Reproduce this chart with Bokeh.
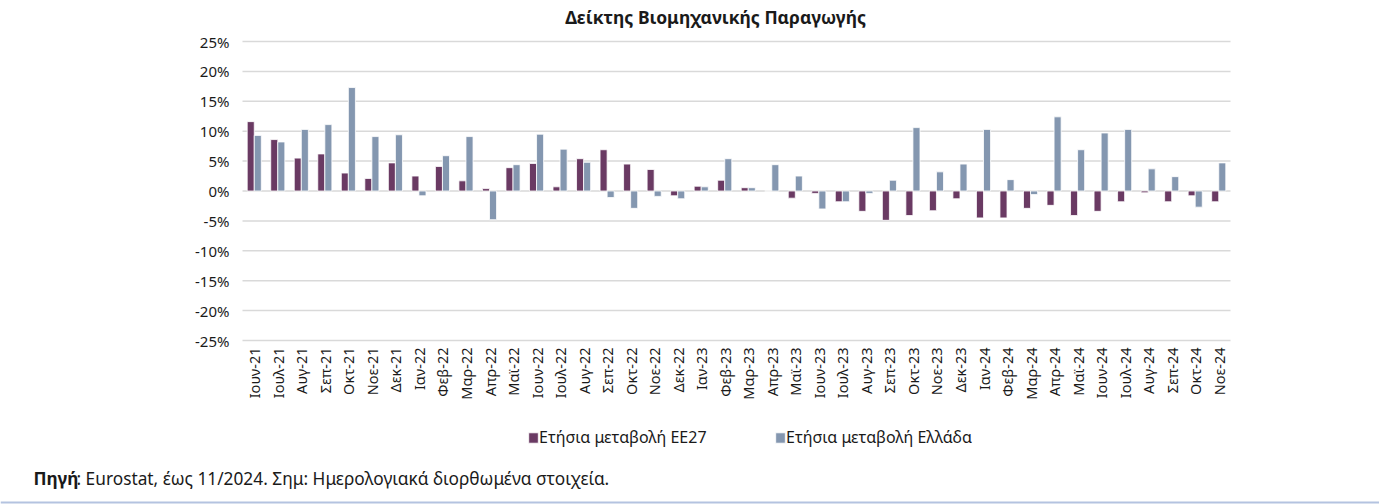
import math
from bokeh.plotting import figure
from bokeh.models import (ColumnDataSource, Label, Legend, LegendItem, BoxAnnotation, Range1d)
from bokeh.core.properties import value
from bokeh.transform import dodge
from bokeh.embed import file_html
from bokeh.resources import INLINE

months = ["Ιουν-21", "Ιουλ-21", "Αυγ-21", "Σεπ-21", "Οκτ-21", "Νοε-21", "Δεκ-21",
          "Ιαν-22", "Φεβ-22", "Μαρ-22", "Απρ-22", "Μαϊ-22", "Ιουν-22", "Ιουλ-22", "Αυγ-22", "Σεπ-22", "Οκτ-22", "Νοε-22", "Δεκ-22",
          "Ιαν-23", "Φεβ-23", "Μαρ-23", "Απρ-23", "Μαϊ-23", "Ιουν-23", "Ιουλ-23", "Αυγ-23", "Σεπ-23", "Οκτ-23", "Νοε-23", "Δεκ-23",
          "Ιαν-24", "Φεβ-24", "Μαρ-24", "Απρ-24", "Μαϊ-24", "Ιουν-24", "Ιουλ-24", "Αυγ-24", "Σεπ-24", "Οκτ-24", "Νοε-24"]

eu27 = [11.6, 8.6, 5.5, 6.2, 3.0, 2.1, 4.7,
        2.5, 4.1, 1.7, 0.4, 3.9, 4.6, 0.7, 5.4, 6.9, 4.5, 3.6, -0.8,
        0.8, 1.8, 0.55, 0.0, -1.2, -0.4, -1.8, -3.4, -4.9, -4.1, -3.3, -1.3,
        -4.5, -4.5, -2.9, -2.4, -4.1, -3.4, -1.8, -0.3, -1.8, -0.8, -1.8]

greece = [9.3, 8.2, 10.3, 11.1, 17.3, 9.1, 9.4,
          -0.8, 5.9, 9.1, -4.8, 4.4, 9.5, 7.0, 4.8, -1.1, -2.9, -0.9, -1.3,
          0.7, 5.4, 0.55, 4.4, 2.5, -3.0, -1.8, -0.4, 1.8, 10.6, 3.2, 4.5,
          10.3, 1.9, -0.6, 12.4, 6.9, 9.7, 10.3, 3.7, 2.4, -2.7, 4.7]

y_ticks = [-25, -20, -15, -10, -5, 0, 5, 10, 15, 20, 25]
y_tick_labels = ["-25%", "-20%", "-15%", "-10%", "-5%", "0%", "5%", "10%", "15%", "20%", "25%"]

title_text = "Δείκτης Βιομηχανικής Παραγωγής"
legend_labels = ["Ετήσια μεταβολή ΕΕ27", "Ετήσια μεταβολή Ελλάδα"]
source_bold = "Πηγή"
source_rest = ": Eurostat, έως 11/2024. Σημ: Ημερολογιακά διορθωμένα στοιχεία."

C_EU = "#6A3A63"
C_GR = "#8497B0"
FONT = "Noto Sans"
TXT = "#1a1a1a"

# canvas and plot-area layout (pixels, from top-left)
W, H = 1379, 504
PL, PR, PT, PB = 242, 1230, 41, 340

n = len(months)
y_lo, y_hi = y_ticks[0], y_ticks[-1]
px_x = (PR - PL) / n
px_y = (PB - PT) / (y_hi - y_lo)
x_range = Range1d(-0.5 - PL / px_x, n - 0.5 + (W - PR) / px_x)
y_range = Range1d(y_lo - (H - PB) / px_y, y_hi + PT / px_y)

p = figure(width=W, height=H, x_range=x_range, y_range=y_range,
           output_backend="svg", toolbar_location=None,
           x_axis_type=None, y_axis_type=None, min_border=0)
p.outline_line_color = None
p.background_fill_color = "white"
p.border_fill_color = "white"

xi = list(range(n))
src = ColumnDataSource(dict(x=xi, m=months, eu=eu27, gr=greece))

# horizontal grid at the y ticks
grid = ColumnDataSource(dict(x0=[-0.5] * len(y_ticks), x1=[n - 0.5] * len(y_ticks),
                             y=y_ticks, lab=y_tick_labels))
p.segment(x0="x0", x1="x1", y0="y", y1="y", source=grid, line_color="#D9D9D9", line_width=1.5)

r_eu = p.vbar(x=dodge("x", -0.15), top="eu", width=0.3, source=src,
              fill_color=C_EU, line_color="white", line_width=0.8)
r_gr = p.vbar(x=dodge("x", 0.15), top="gr", width=0.3, source=src,
              fill_color=C_GR, line_color="white", line_width=0.8)

# y tick labels
p.text(x="x0", y="y", text="lab", source=grid, x_offset=-13,
       text_align="right", text_baseline="middle",
       text_font=value(FONT), text_font_size="15px", text_color=TXT)

# x category labels (vertical, reading upward)
lab_src = ColumnDataSource(dict(x=xi, y=[y_lo] * n, m=months))
p.text(x="x", y="y", text="m", source=lab_src, angle=math.pi / 2, y_offset=7,
       text_align="right", text_baseline="middle",
       text_font=value(FONT), text_font_size="14.5px", text_color=TXT)

# title
p.add_layout(Label(x=715, y=H - 16, x_units="screen", y_units="screen", text=title_text,
                   text_font=FONT, text_font_style="bold", text_font_size="17.5px",
                   text_align="center", text_baseline="middle", text_color=TXT))

# legend
for x0, lab, rend in [(527, legend_labels[0], r_eu), (774, legend_labels[1], r_gr)]:
    lg = Legend(items=[LegendItem(label=lab, renderers=[rend])], location=(x0, H - 448),
                orientation="horizontal", padding=0, margin=0, spacing=0,
                glyph_width=12, glyph_height=13, label_height=18, label_standoff=0,
                label_text_font=FONT, label_text_font_size="16px", label_text_color=TXT,
                label_text_baseline="middle",
                background_fill_alpha=0, border_line_color=None)
    p.add_layout(lg, "center")

# source note
p.add_layout(Label(x=33, y=H - 478, x_units="screen", y_units="screen", text=source_bold,
                   text_font=FONT, text_font_style="bold", text_font_size="17.3px",
                   text_baseline="middle", text_color=TXT))
p.add_layout(Label(x=76, y=H - 478, x_units="screen", y_units="screen", text=source_rest,
                   text_font=FONT, text_font_size="17.3px",
                   text_baseline="middle", text_color=TXT))

# bottom rule
p.add_layout(BoxAnnotation(left=0, right=W, bottom=1, top=3,
                           left_units="screen", right_units="screen",
                           bottom_units="screen", top_units="screen",
                           fill_color="#B4C3E0", fill_alpha=1, line_color=None))

open("out.html", "w").write(file_html(p, INLINE))
